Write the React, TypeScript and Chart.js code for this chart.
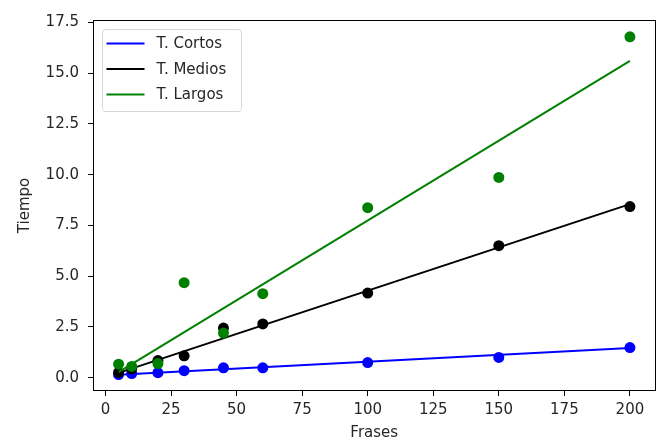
import React, { useEffect, useRef } from "react";
import { Chart, registerables } from "chart.js";

Chart.register(...registerables);

const frases = [5, 10, 20, 30, 45, 60, 100, 150, 200];
const cortos = [0.16, 0.21, 0.25, 0.35, 0.49, 0.49, 0.75, 1.0, 1.49];
const medios = [0.26, 0.44, 0.85, 1.08, 2.45, 2.65, 4.17, 6.5, 8.43];
const largos = [0.67, 0.56, 0.7, 4.68, 2.2, 4.14, 8.37, 9.86, 16.78];

const fitX = [5, 200];
const fitCortos = [0.15, 1.47];
const fitMedios = [0.24, 8.55];
const fitLargos = [0.28, 15.6];

const seriesNames = ["T. Cortos", "T. Medios", "T. Largos"];
const seriesColors = ["#0000ff", "#000000", "#008000"];

const xTicks = [0, 25, 50, 75, 100, 125, 150, 175, 200];
const yTicks = [0, 2.5, 5, 7.5, 10, 12.5, 15, 17.5];

const FONT = "'DejaVu Sans', sans-serif";

const toPts = (xs: number[], ys: number[]) => xs.map((x, i) => ({ x, y: ys[i] }));

const framePlugin = {
  id: "frame",
  afterDatasetsDraw(chart: any) {
    const { ctx, chartArea: a } = chart;
    ctx.save();
    ctx.strokeStyle = "#000";
    ctx.lineWidth = 1;
    ctx.strokeRect(Math.round(a.left) + 0.5, Math.round(a.top) + 0.5, Math.round(a.right - a.left) - 1, Math.round(a.bottom - a.top) - 1);
    ctx.restore();
  },
};

const legendPlugin = {
  id: "innerLegend",
  afterDraw(chart: any) {
    const { ctx, chartArea: a } = chart;
    const x0 = a.left + 9.5;
    const y0 = a.top + 9.5;
    const w = 139;
    const h = 82;
    const r = 3;
    ctx.save();
    ctx.beginPath();
    ctx.moveTo(x0 + r, y0);
    ctx.lineTo(x0 + w - r, y0);
    ctx.arcTo(x0 + w, y0, x0 + w, y0 + r, r);
    ctx.lineTo(x0 + w, y0 + h - r);
    ctx.arcTo(x0 + w, y0 + h, x0 + w - r, y0 + h, r);
    ctx.lineTo(x0 + r, y0 + h);
    ctx.arcTo(x0, y0 + h, x0, y0 + h - r, r);
    ctx.lineTo(x0, y0 + r);
    ctx.arcTo(x0, y0, x0 + r, y0, r);
    ctx.closePath();
    ctx.fillStyle = "rgba(255,255,255,0.8)";
    ctx.fill();
    ctx.strokeStyle = "#d6d6d6";
    ctx.lineWidth = 1;
    ctx.stroke();
    ctx.font = `15px ${FONT}`;
    ctx.textBaseline = "middle";
    ctx.textAlign = "left";
    seriesNames.forEach((name, i) => {
      const cy = y0 + 14 + i * 25.5;
      ctx.beginPath();
      ctx.strokeStyle = seriesColors[i];
      ctx.lineWidth = 2;
      ctx.moveTo(x0 + 4, cy);
      ctx.lineTo(x0 + 42, cy);
      ctx.stroke();
      ctx.fillStyle = "#262626";
      ctx.fillText(name, x0 + 54, cy + 1);
    });
    ctx.restore();
  },
};

export default function App() {
  const ref = useRef<HTMLCanvasElement | null>(null);
  useEffect(() => {
    document.body.style.margin = "0";
    const canvas = ref.current!;
    const scatter = (ys: number[], i: number, order: number) => ({
      type: "scatter" as const,
      label: seriesNames[i],
      data: toPts(frases, ys),
      pointRadius: 5.5,
      pointBorderWidth: 0,
      pointBackgroundColor: seriesColors[i],
      backgroundColor: seriesColors[i],
      borderColor: seriesColors[i],
      showLine: false,
      order,
    });
    const fit = (ys: number[], i: number, order: number) => ({
      type: "line" as const,
      label: seriesNames[i],
      data: toPts(fitX, ys),
      borderColor: seriesColors[i],
      borderWidth: 2,
      pointRadius: 0,
      fill: false,
      tension: 0,
      order,
    });
    const chart = new Chart(canvas, {
      type: "scatter",
      data: {
        datasets: [
          scatter(cortos, 0, 6),
          fit(fitCortos, 0, 5),
          scatter(medios, 1, 4),
          fit(fitMedios, 1, 3),
          scatter(largos, 2, 2),
          fit(fitLargos, 2, 1),
        ] as any,
      },
      options: {
        animation: false,
        responsive: false,
        maintainAspectRatio: false,
        layout: { padding: { top: 20, right: 1, left: 0, bottom: 0 } },
        plugins: { legend: { display: false }, tooltip: { enabled: false } },
        scales: {
          x: {
            type: "linear",
            min: -4.75,
            max: 209.75,
            afterFit: (s: any) => { s.height = 49; },
            afterBuildTicks: (s: any) => { s.ticks = xTicks.map((v) => ({ value: v })); },
            border: { display: false },
            grid: { drawOnChartArea: false, drawTicks: true, tickLength: 5, color: "#000", lineWidth: 1 },
            ticks: { color: "#262626", font: { family: FONT, size: 15 }, padding: 5, maxRotation: 0, autoSkip: false, callback: (v: any) => String(v) },
            title: { display: true, text: "Frases", color: "#262626", font: { family: FONT, size: 15 }, padding: { top: 0, bottom: -2 } },
          },
          y: {
            type: "linear",
            min: -0.65,
            max: 17.61,
            afterFit: (s: any) => { s.width = 93; },
            afterBuildTicks: (s: any) => { s.ticks = yTicks.map((v) => ({ value: v })); },
            border: { display: false },
            grid: { drawOnChartArea: false, drawTicks: true, tickLength: 5, color: "#000", lineWidth: 1 },
            ticks: { color: "#262626", font: { family: FONT, size: 15 }, padding: 9, autoSkip: false, callback: (v: any) => Number(v).toFixed(1) },
            title: { display: true, text: "Tiempo", color: "#262626", font: { family: FONT, size: 15 }, padding: { top: 16, bottom: 0 } },
          },
        },
      },
      plugins: [framePlugin, legendPlugin],
    });
    return () => chart.destroy();
  }, []);
  return (
    <div style={{ width: 661, height: 440, position: "relative", background: "#fff" }}>
      <canvas ref={ref} width={661} height={440} style={{ display: "block" }} />
    </div>
  );
}
